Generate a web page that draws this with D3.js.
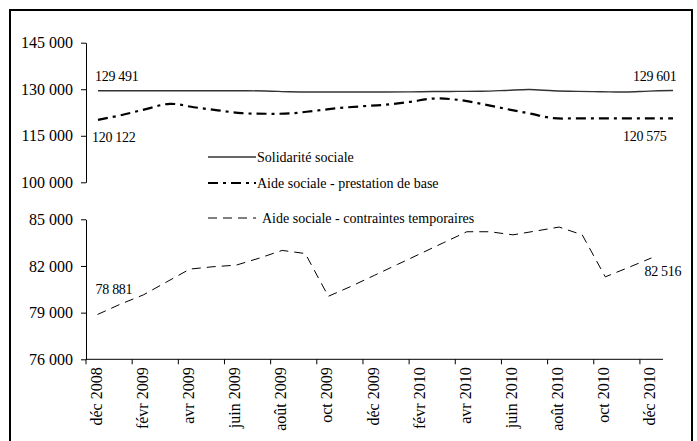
<!DOCTYPE html>
<html>
<head>
<meta charset="utf-8">
<script src="https://cdn.jsdelivr.net/npm/d3@7"></script>
<style>
  body { margin: 0; background: #fff; }
  svg text { font-family: "Liberation Serif", "Times New Roman", serif; fill: #000; }
</style>
</head>
<body>
<div id="chart"></div>
<script>
// mois, de déc 2008 à déc 2010
const months = ["déc 2008", "janv 2009", "févr 2009", "mars 2009", "avr 2009", "mai 2009", "juin 2009",
  "juil 2009", "août 2009", "sept 2009", "oct 2009", "nov 2009", "déc 2009", "janv 2010", "févr 2010",
  "mars 2010", "avr 2010", "mai 2010", "juin 2010", "juil 2010", "août 2010", "sept 2010", "oct 2010",
  "nov 2010", "déc 2010"];

const solidarite = [129491, 129500, 129500, 129500, 129500, 129500, 129500, 129450, 129200, 129100,
  129100, 129100, 129100, 129150, 129250, 129300, 129350, 129600, 129900, 129500, 129300, 129200,
  129100, 129400, 129601];

const prestationBase = [120122, 121700, 123600, 125300, 124200, 123200, 122300, 122100, 122200, 123000,
  123900, 124500, 125000, 125900, 127000, 126600, 125300, 123700, 122200, 120700, 120600, 120600,
  120600, 120600, 120575];

const contraintesTemp = [78881, 79550, 80150, 80980, 81800, 81950, 82050, 82500, 83000, 82800,
  80050, 80700, 81400, 82100, 82800, 83500, 84200, 84200, 84000, 84250, 84500, 84000,
  81300, 81900, 82516];

const upperTicks = [100000, 115000, 130000, 145000];
const lowerTicks = [76000, 79000, 82000, 85000];

const width = 697, height = 441;
const fr = d3.formatLocale({ decimal: ",", thousands: " ", grouping: [3], currency: ["", ""] });
const fmt = fr.format(",");

const svg = d3.select("#chart").append("svg")
  .attr("width", width)
  .attr("height", height);

// cadre
svg.append("rect")
  .attr("x", 10).attr("y", 10)
  .attr("width", 682).attr("height", 460)
  .attr("fill", "none")
  .attr("stroke", "#000")
  .attr("stroke-width", 2);

// échelles
const xUp = d3.scaleLinear().domain([0, months.length - 1]).range([98, 673]);
const xLow = d3.scaleLinear().domain([-0.5, months.length - 0.5]).range([86, 663]);
const yUp = d3.scaleLinear().domain([100000, 145000]).range([182.3, 42.7]);
const yLow = d3.scaleLinear().domain([76000, 85000]).range([359.3, 219.3]);

// axes verticaux
const axisUp = svg.append("g")
  .attr("transform", "translate(86,0)")
  .call(d3.axisLeft(yUp).tickValues(upperTicks).tickSize(5).tickSizeOuter(0).tickPadding(8).tickFormat(fmt));
const axisLow = svg.append("g")
  .attr("transform", "translate(86,0)")
  .call(d3.axisLeft(yLow).tickValues(lowerTicks).tickSize(5).tickSizeOuter(0).tickPadding(8).tickFormat(fmt));
[axisUp, axisLow].forEach(a => {
  a.selectAll("text").style("font-size", "16px").style("font-family", "Liberation Serif, serif");
  a.selectAll("path, line").attr("stroke", "#000");
});

// axe horizontal (catégories, graduations entre les mois)
const xAxis = svg.append("g");
xAxis.append("line")
  .attr("x1", xLow.range()[0]).attr("x2", xLow.range()[1])
  .attr("y1", yLow(76000)).attr("y2", yLow(76000))
  .attr("stroke", "#000");
const labelIdx = d3.range(0, months.length, 2);
xAxis.selectAll(".tk")
  .data(labelIdx)
  .join("line")
  .attr("class", "tk")
  .attr("x1", d => xLow(d - 0.5)).attr("x2", d => xLow(d - 0.5))
  .attr("y1", yLow(76000)).attr("y2", yLow(76000) + 5)
  .attr("stroke", "#000");
xAxis.selectAll(".lb")
  .data(labelIdx)
  .join("text")
  .attr("class", "lb")
  .attr("transform", d => `translate(${xLow(d) + 4},${yLow(76000) + 8}) rotate(-90)`)
  .attr("text-anchor", "end")
  .style("font-size", "16px")
  .text(d => months[d]);

// courbes
const lineUp = (vals) => d3.line()
  .x((d, i) => xUp(i))
  .y(d => yUp(d))
  .curve(d3.curveCatmullRom.alpha(0.5))(vals);

svg.append("path")
  .attr("d", lineUp(solidarite))
  .attr("fill", "none")
  .attr("stroke", "#333")
  .attr("stroke-width", 1.4);

svg.append("path")
  .attr("d", lineUp(prestationBase))
  .attr("fill", "none")
  .attr("stroke", "#000")
  .attr("stroke-width", 2.2)
  .attr("stroke-dasharray", "10,5,3,5");

svg.append("path")
  .attr("d", d3.line().x((d, i) => xLow(i)).y(d => yLow(d))(contraintesTemp))
  .attr("fill", "none")
  .attr("stroke", "#000")
  .attr("stroke-width", 1)
  .attr("stroke-dasharray", "9,6");

// étiquettes de valeurs
const last = months.length - 1;
const valueLabels = [
  { x: xUp(0) - 3, y: yUp(solidarite[0]) - 10, v: solidarite[0] },
  { x: xUp(0) - 6, y: yUp(prestationBase[0]) + 22, v: prestationBase[0] },
  { x: xUp(last) - 40, y: yUp(solidarite[last]) - 9, v: solidarite[last] },
  { x: xUp(last) - 50, y: yUp(prestationBase[last]) + 23, v: prestationBase[last] },
  { x: xLow(0) - 2, y: yLow(contraintesTemp[0]) - 20, v: contraintesTemp[0] },
  { x: xLow(last) - 7, y: yLow(contraintesTemp[last]) + 18, v: contraintesTemp[last] }
];
svg.append("g")
  .selectAll("text")
  .data(valueLabels)
  .join("text")
  .attr("x", d => d.x)
  .attr("y", d => d.y)
  .style("font-size", "14px")
  .style("letter-spacing", "-0.3px")
  .text(d => fmt(d.v));

// légende
const legend = [
  { name: "Solidarité sociale", y: 157, w: 1.4, dash: null, color: "#333" },
  { name: "Aide sociale - prestation de base", y: 183, w: 2.2, dash: "10,5,3,5", color: "#000" },
  { name: "Aide sociale - contraintes temporaires", y: 218, w: 1, dash: "9,6", color: "#000" }
];
const lg = svg.append("g");
lg.selectAll("line")
  .data(legend)
  .join("line")
  .attr("x1", 208).attr("x2", 256)
  .attr("y1", d => d.y).attr("y2", d => d.y)
  .attr("stroke", d => d.color)
  .attr("stroke-width", d => d.w)
  .attr("stroke-dasharray", d => d.dash);
lg.selectAll("text")
  .data(legend)
  .join("text")
  .attr("x", (d, i) => i === 2 ? 262 : 257)
  .attr("y", d => d.y + 5)
  .style("font-size", "14px")
  .text(d => d.name);
</script>
</body>
</html>
